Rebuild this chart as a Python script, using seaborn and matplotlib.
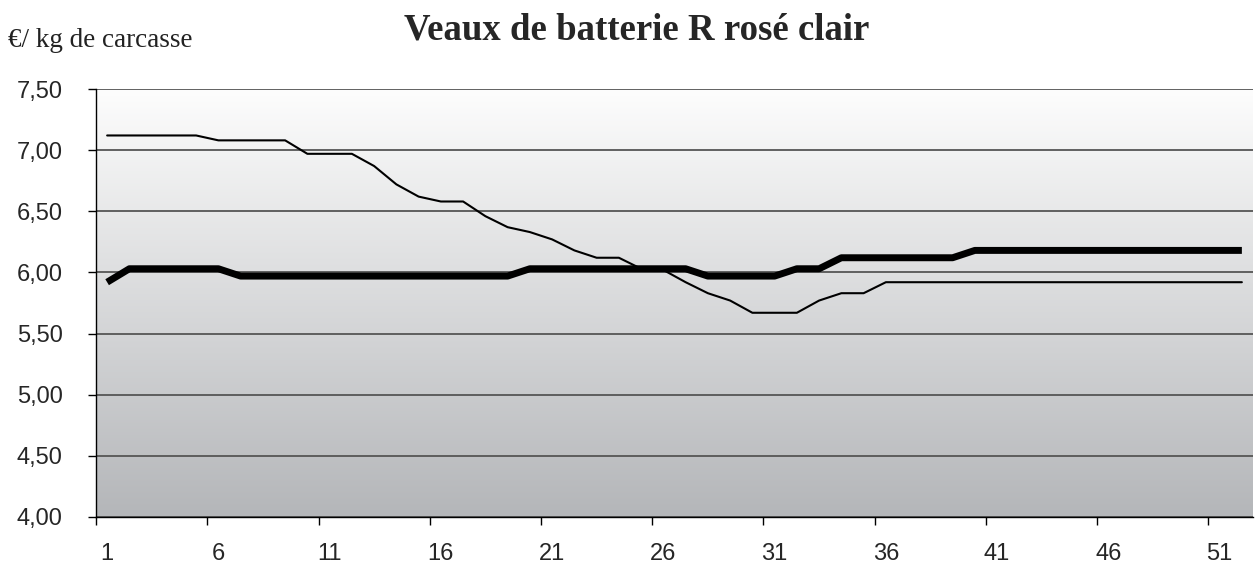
import numpy as np
import pandas as pd
import matplotlib.pyplot as plt
import seaborn as sns
from matplotlib.colors import LinearSegmentedColormap

# Weekly prices (euro / kg carcass)
semaines = list(range(1, 53))
prix_fin = [7.12, 7.12, 7.12, 7.12, 7.12, 7.08, 7.08, 7.08, 7.08, 6.97,
            6.97, 6.97, 6.87, 6.72, 6.62, 6.58, 6.58, 6.46, 6.37, 6.33,
            6.27, 6.18, 6.12, 6.12, 6.03, 6.02, 5.92, 5.83, 5.77, 5.67,
            5.67, 5.67, 5.77, 5.83, 5.83, 5.92, 5.92, 5.92, 5.92, 5.92,
            5.92, 5.92, 5.92, 5.92, 5.92, 5.92, 5.92, 5.92, 5.92, 5.92,
            5.92, 5.92]
prix_epais = [5.92, 6.03, 6.03, 6.03, 6.03, 6.03, 5.97, 5.97, 5.97, 5.97,
              5.97, 5.97, 5.97, 5.97, 5.97, 5.97, 5.97, 5.97, 5.97, 6.03,
              6.03, 6.03, 6.03, 6.03, 6.03, 6.03, 6.03, 5.97, 5.97, 5.97,
              5.97, 6.03, 6.03, 6.12, 6.12, 6.12, 6.12, 6.12, 6.12, 6.18,
              6.18, 6.18, 6.18, 6.18, 6.18, 6.18, 6.18, 6.18, 6.18, 6.18,
              6.18, 6.18]
y_ticks = [4.0, 4.5, 5.0, 5.5, 6.0, 6.5, 7.0, 7.5]
y_labels = ['4,00', '4,50', '5,00', '5,50', '6,00', '6,50', '7,00', '7,50']
x_labels = ['1', '6', '11', '16', '21', '26', '31', '36', '41', '46', '51']

df = pd.DataFrame({'Semaine': semaines, 'Fin': prix_fin, 'Epais': prix_epais})

sns.set_style('white')
plt.rcParams['font.family'] = ['Liberation Sans', 'DejaVu Sans']

fig = plt.figure(figsize=(12.55, 5.72), dpi=100)
ax = fig.add_axes([0.0765, 0.0962, 0.9219, 0.7482])

# Gradient background, grey at the bottom to white at the top
fond = LinearSegmentedColormap.from_list('fond', ['#b4b6b9', '#fdfdfd'])
grad = np.linspace(0, 1, 256).reshape(-1, 1)
ax.imshow(grad, aspect='auto', cmap=fond, origin='lower',
          extent=[0.5, 52.5, 4.0, 7.5], zorder=0)

sns.lineplot(data=df, x='Semaine', y='Fin', color='black', lw=1.5, ax=ax)
sns.lineplot(data=df, x='Semaine', y='Epais', color='black', lw=5,
             solid_capstyle='butt', ax=ax)

ax.set_xlim(0.5, 52.5)
ax.set_ylim(4.0, 7.5)
ax.set_xlabel('')
ax.set_ylabel('')

# Horizontal grid
ax.set_axisbelow('line')
ax.yaxis.grid(True, color='#555555', lw=1.3)
ax.xaxis.grid(False)

# y axis
ax.set_yticks(y_ticks)
ax.set_yticklabels(y_labels)
ax.tick_params(axis='y', direction='out', length=6, width=1, color='black',
               pad=18, labelsize=17, left=True)

# x axis: tick marks between categories, labels on the categories
ax.set_xticks(np.arange(0.5, 51, 5))
ax.set_xticklabels([])
ax.set_xticks(semaines[::5], minor=True)
ax.set_xticklabels(x_labels, minor=True)
ax.tick_params(axis='x', which='major', direction='out', length=6, width=1,
               color='black', bottom=True)
ax.tick_params(axis='x', which='minor', length=0, pad=18.5, labelsize=17)

for s in ['top', 'right']:
    ax.spines[s].set_visible(False)
for s in ['left', 'bottom']:
    ax.spines[s].set_color('black')
    ax.spines[s].set_linewidth(1)

fig.text(0.507, 0.947, 'Veaux de batterie R rosé clair', ha='center', va='center',
         fontsize=26.5, fontweight='bold', family=['Liberation Serif', 'DejaVu Serif'])
fig.text(0.006, 0.929, '€/ kg de carcasse', ha='left', va='center',
         fontsize=19.5, family=['Liberation Serif', 'DejaVu Serif'], color='#222222')

plt.savefig('out.png', dpi=100)
